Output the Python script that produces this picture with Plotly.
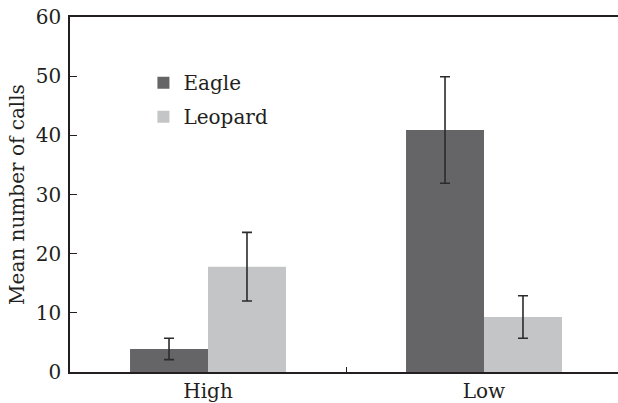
import plotly.graph_objects as go

# Mean alarm-call counts by condition, with error bars
conditions = ["High", "Low"]
eagle_means = [3.9, 40.9]
eagle_err = [1.8, 9.0]
leopard_means = [17.8, 9.3]
leopard_err = [5.8, 3.6]
y_ticks = [0, 10, 20, 30, 40, 50, 60]

AXIS_COLOR = "#231f20"
FONT = dict(family="DejaVu Serif, Liberation Serif, serif", size=20, color="#231f20")

err_style = dict(type="data", visible=True, color="#2b2b2b", thickness=1.6, width=5)

fig = go.Figure()
fig.add_trace(go.Bar(
    name="Eagle", x=conditions, y=eagle_means,
    marker=dict(color="#656567", line=dict(width=0)),
    error_y=dict(array=eagle_err, **err_style),
    legendgroup="eagle",
))
fig.add_trace(go.Bar(
    name="Leopard", x=conditions, y=leopard_means,
    marker=dict(color="#c4c5c7", line=dict(width=0)),
    error_y=dict(array=leopard_err, **err_style),
    legendgroup="leopard",
))

fig.update_layout(
    width=618, height=403,
    margin=dict(l=70, r=0, t=17, b=31),
    paper_bgcolor="white", plot_bgcolor="white",
    font=FONT,
    barmode="group", bargap=0.435, bargroupgap=0,
    showlegend=True,
    legend=dict(
        x=0.134, y=0.87, xanchor="left", yanchor="top",
        bgcolor="rgba(0,0,0,0)", tracegroupgap=5,
        font=FONT, itemwidth=30,
    ),
)

fig.update_xaxes(
    range=[-0.5, 1.4855],
    showline=True, linecolor=AXIS_COLOR, linewidth=1.5, mirror=True,
    ticks="inside", tickson="boundaries", ticklen=5, tickcolor=AXIS_COLOR, tickwidth=1.2,
    showgrid=False, zeroline=False,
    tickfont=FONT,
)
fig.update_yaxes(
    range=[0, 60], tickvals=y_ticks,
    showline=True, linecolor=AXIS_COLOR, linewidth=1.5, mirror=False,
    ticks="inside", ticklen=7, tickcolor=AXIS_COLOR, tickwidth=1.2,
    showgrid=False, zeroline=False,
    tickfont=FONT, ticklabelstandoff=3,
    title=dict(text="Mean number of calls", font=FONT, standoff=6),
)

fig.write_html("out.html")
